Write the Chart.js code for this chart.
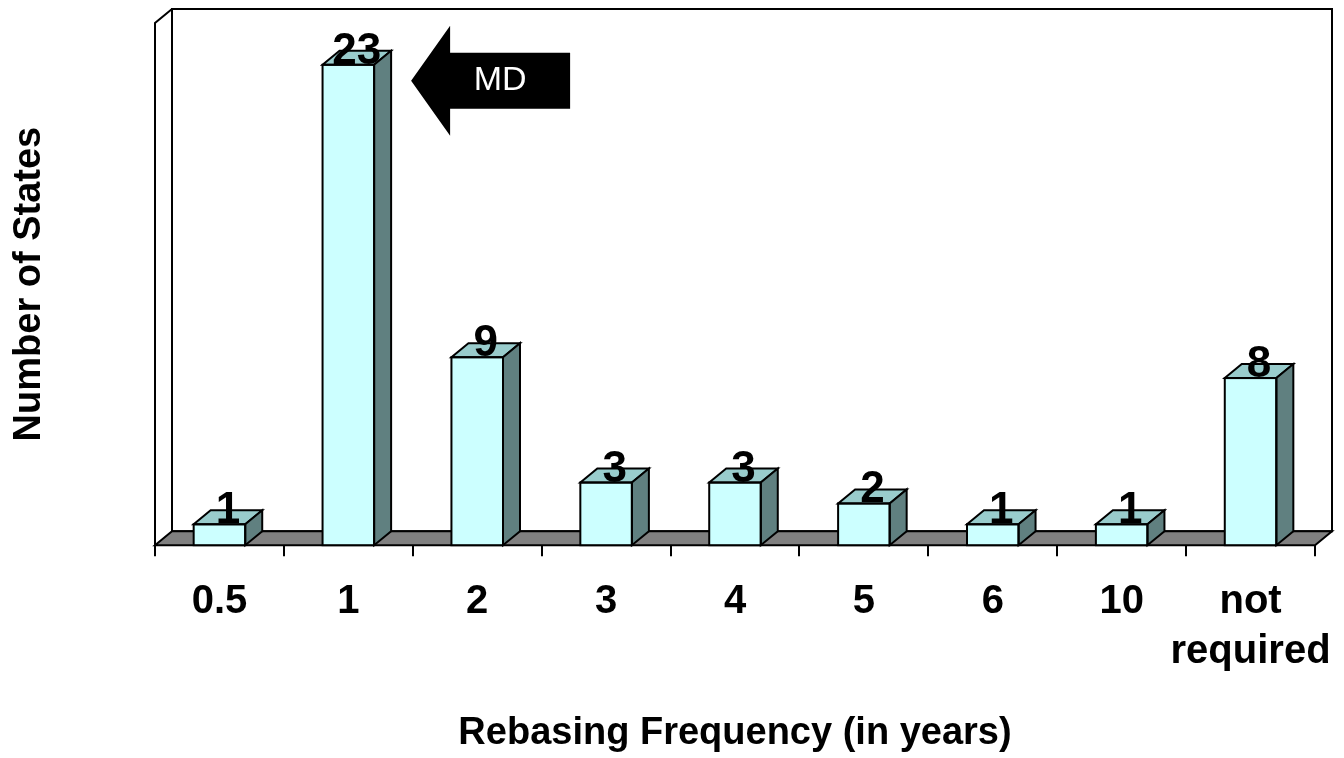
<!DOCTYPE html>
<html>
<head>
<meta charset="utf-8">
<script src="https://cdn.jsdelivr.net/npm/chart.js@4.4.1/dist/chart.umd.min.js"></script>
<style>
  body { margin: 0; background: #fff; }
  #chart-box { display: block; }
</style>
</head>
<body>
<canvas id="chart-box" width="1344" height="758"></canvas>
<script>
const labels = ['0.5', '1', '2', '3', '4', '5', '6', '10', ['not', 'required']]
const states = [1, 23, 9, 3, 3, 2, 1, 1, 8]
const yMax = 25
const calloutText = 'MD'
const calloutIndex = 1

const depthX = 17
const depthY = -14
const font = "'Liberation Sans', Arial, sans-serif"

const box3d = {
    id: 'box3d',
    beforeDatasetsDraw: (chart) => {
        const { ctx, chartArea: a } = chart
        ctx.save()
        ctx.lineWidth = 2
        ctx.strokeStyle = '#000'

        // back wall
        ctx.fillStyle = '#fff'
        ctx.beginPath()
        ctx.rect(a.left + depthX, a.top + depthY, a.right - a.left, a.bottom - a.top)
        ctx.fill()
        ctx.stroke()

        // left wall
        ctx.beginPath()
        ctx.moveTo(a.left, a.bottom)
        ctx.lineTo(a.left, a.top)
        ctx.lineTo(a.left + depthX, a.top + depthY)
        ctx.stroke()

        // floor
        ctx.fillStyle = '#808080'
        ctx.beginPath()
        ctx.moveTo(a.left, a.bottom)
        ctx.lineTo(a.right, a.bottom)
        ctx.lineTo(a.right + depthX, a.bottom + depthY)
        ctx.lineTo(a.left + depthX, a.bottom + depthY)
        ctx.closePath()
        ctx.fill()
        ctx.stroke()
        ctx.restore()
    },
    afterDatasetsDraw: (chart) => {
        const { ctx } = chart
        const meta = chart.getDatasetMeta(0)
        const face = (pts, color) => {
            ctx.fillStyle = color
            ctx.beginPath()
            pts.forEach(([x, y], k) => k ? ctx.lineTo(x, y) : ctx.moveTo(x, y))
            ctx.closePath()
            ctx.fill()
            ctx.stroke()
        }
        ctx.save()
        ctx.lineWidth = 2
        ctx.strokeStyle = '#000'
        meta.data.forEach((bar) => {
            const l = bar.x - bar.width / 2
            const r = bar.x + bar.width / 2
            const t = bar.y
            const b = bar.base
            face([[l, t], [r, t], [r + depthX, t + depthY], [l + depthX, t + depthY]], '#99CCCC')
            face([[r, t], [r + depthX, t + depthY], [r + depthX, b + depthY], [r, b]], '#608080')
            ctx.strokeRect(l, t, r - l, b - t)
        })

        ctx.fillStyle = '#000'
        ctx.font = `bold 44px ${font}`
        ctx.textAlign = 'center'
        ctx.textBaseline = 'alphabetic'
        meta.data.forEach((bar, i) => {
            ctx.fillText(String(states[i]), bar.x + depthX / 2, bar.y - 1)
        })

        // callout arrow
        const bar = meta.data[calloutIndex]
        const tx = bar.x + bar.width / 2 + depthX + 20
        const ty = bar.y + 16
        ctx.beginPath()
        ctx.moveTo(tx, ty)
        ctx.lineTo(tx + 39, ty - 55)
        ctx.lineTo(tx + 39, ty - 28)
        ctx.lineTo(tx + 159, ty - 28)
        ctx.lineTo(tx + 159, ty + 28)
        ctx.lineTo(tx + 39, ty + 28)
        ctx.lineTo(tx + 39, ty + 55)
        ctx.closePath()
        ctx.fill()
        ctx.fillStyle = '#fff'
        ctx.font = `34px ${font}`
        ctx.textBaseline = 'middle'
        ctx.fillText(calloutText, tx + 89, ty)
        ctx.restore()
    }
}

Chart.defaults.font.family = font
Chart.defaults.color = '#000'

const ctx = document.getElementById('chart-box')

new Chart(ctx, {
    type: 'bar',
    data: {
        labels: labels,
        datasets: [{
            data: states,
            backgroundColor: '#CCFFFF',
            borderColor: '#000',
            borderWidth: 0,
            barPercentage: 0.4,
            categoryPercentage: 1,
        }]
    },
    options: {
        responsive: false,
        animation: false,
        devicePixelRatio: 1,
        layout: {
            padding: { top: 23, right: 29, left: 0, bottom: 0 }
        },
        scales: {
            x: {
                afterFit: (scale) => {
                    scale.paddingLeft = 0
                    scale.paddingRight = 0
                },
                grid: {
                    drawOnChartArea: false,
                    drawTicks: true,
                    tickLength: 11,
                    color: '#000',
                    lineWidth: 2,
                },
                border: { display: true, color: '#000', width: 2 },
                ticks: {
                    padding: 21,
                    maxRotation: 0,
                    autoSkip: false,
                    font: { size: 40, weight: 'bold', lineHeight: 1.25 },
                },
                title: {
                    display: true,
                    text: 'Rebasing Frequency (in years)',
                    font: { size: 38, weight: 'bold', lineHeight: 1.2 },
                    padding: { top: 13, bottom: 1.2 },
                },
            },
            y: {
                min: 0,
                max: yMax,
                grid: { display: false, drawTicks: false },
                border: { display: false },
                ticks: { display: false },
                title: {
                    display: true,
                    text: 'Number of States',
                    font: { size: 38, weight: 'bold', lineHeight: 1.2 },
                    padding: { top: 7, bottom: 102.4 },
                },
            }
        },
        plugins: {
            legend: { display: false },
            tooltip: { enabled: false },
        }
    },
    plugins: [box3d],
})
</script>
</body>
</html>
